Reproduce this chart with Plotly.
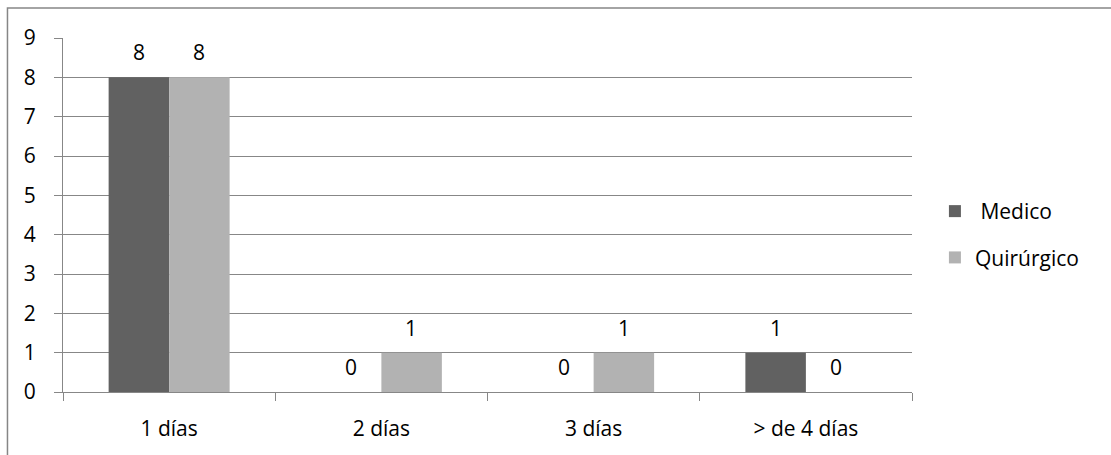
import plotly.graph_objects as go

categories = ["1 días", "2 días", "3 días", "> de 4 días"]
medico = [8, 0, 0, 1]
quirurgico = [8, 1, 1, 0]
y_ticks = list(range(0, 10))

FONT = "Open Sans, Liberation Sans, sans-serif"
FS = 21
C_MED = "#616161"
C_QUI = "#b2b2b2"
GRID = "#878787"

fig = go.Figure()
fig.add_trace(go.Bar(name=" Medico", x=categories, y=medico, marker_color=C_MED,
                     marker_line_width=0, legendgroup="a"))
fig.add_trace(go.Bar(name="Quirúrgico", x=categories, y=quirurgico, marker_color=C_QUI,
                     marker_line_width=0, legendgroup="b"))

for series, shift in ((medico, -30), (quirurgico, 30)):
    for cat, v in zip(categories, series):
        fig.add_annotation(x=cat, y=v, text=str(v), showarrow=False, xshift=shift, yshift=25,
                           font=dict(family=FONT, size=FS, color="#000000"))

fig.update_layout(
    width=1111, height=455,
    margin=dict(l=63, r=199, t=38, b=63),
    paper_bgcolor="white", plot_bgcolor="white",
    barmode="group", bargap=0.43, bargroupgap=0,
    font=dict(family=FONT, size=FS, color="#000000"),
    legend=dict(x=1.027, y=0.445, xanchor="left", yanchor="middle",
                traceorder="grouped", tracegroupgap=16,
                font=dict(family=FONT, size=FS, color="#000000"),
                itemwidth=30),
    showlegend=True,
)
fig.update_xaxes(
    type="category", showline=True, linecolor=GRID, linewidth=1,
    ticks="outside", tickson="boundaries", ticklen=8, tickcolor=GRID,
    showgrid=False, ticklabelstandoff=18,
)
fig.update_yaxes(
    range=[0, 9], tickvals=y_ticks, showline=True, linecolor=GRID, linewidth=1,
    ticks="outside", ticklen=8, tickcolor=GRID,
    showgrid=True, gridcolor=GRID, gridwidth=1, zeroline=False,
    ticklabelstandoff=14,
)
fig.add_shape(type="rect", xref="paper", yref="paper",
              x0=-0.0654, x1=1.3, y0=-0.3, y1=1.0847,
              line=dict(color="#868686", width=1.5), fillcolor="rgba(0,0,0,0)", layer="below")

fig.write_html("out.html", config={"displayModeBar": False},
               post_script="document.body.style.margin='0';")
